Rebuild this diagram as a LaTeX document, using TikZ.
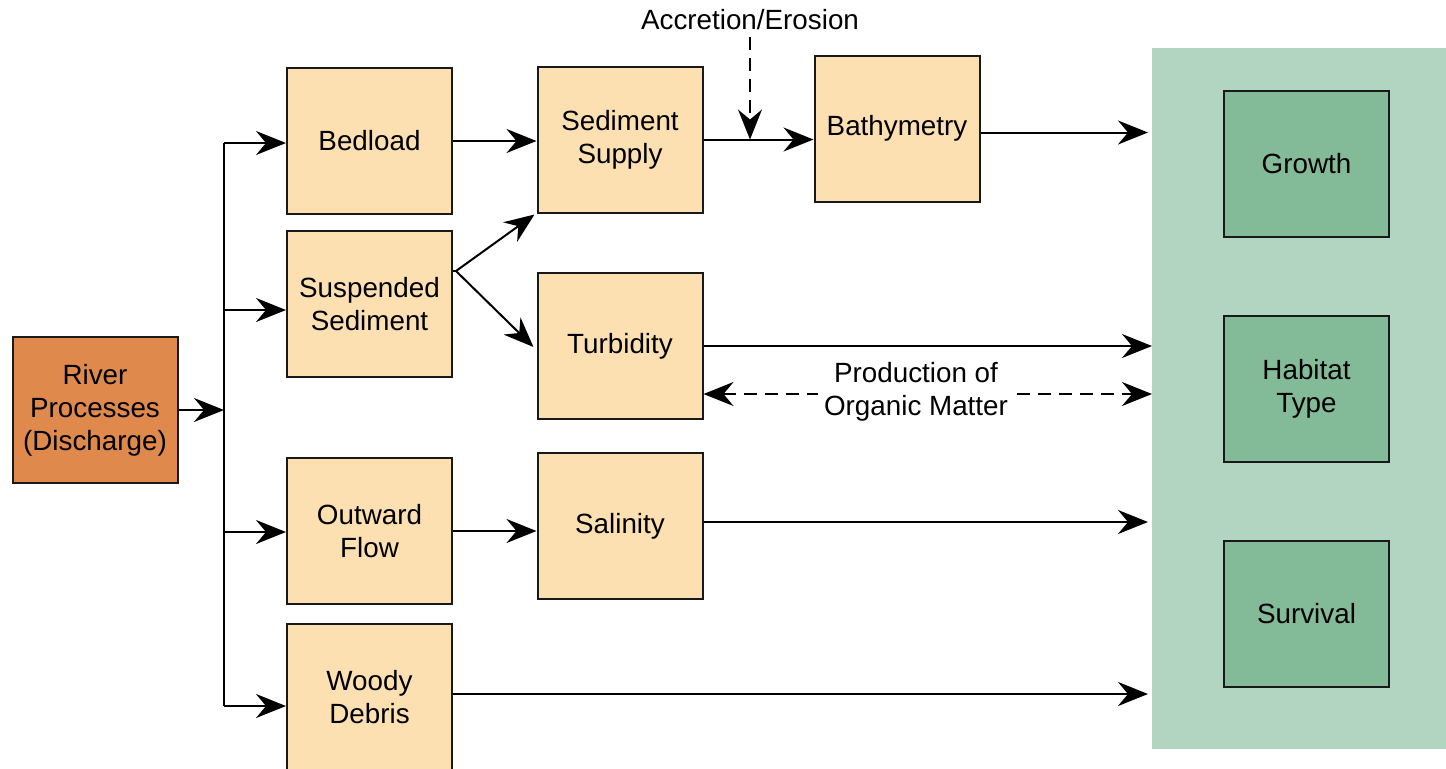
\documentclass[tikz,border=0pt]{standalone}
\usepackage{fontspec}
\setmainfont{Liberation Sans}
\usetikzlibrary{arrows.meta,calc}
\definecolor{riverc}{HTML}{E0894D}
\definecolor{tanc}{HTML}{FCE0B2}
\definecolor{panelc}{HTML}{B2D5C2}
\definecolor{outc}{HTML}{83BA98}
\begin{document}
\begin{tikzpicture}[x=0.5pt,y=-0.5pt,
  >={Stealth[length=15pt,width=12pt,inset=5pt]},
  txt/.style={font=\fontsize{13.9}{16.5}\selectfont, align=center},
  box/.style={txt, draw=black!90, line width=1pt, minimum width=82.5pt, minimum height=73pt, inner sep=0pt},
  tanbox/.style={box, fill=tanc},
  outbox/.style={box, fill=outc},
  arr/.style={line width=1pt, ->},
  darr/.style={arr, dash pattern=on 6.5pt off 4pt}
]
\clip (0,0) rectangle (1446,768);
\fill[white] (0,0) rectangle (1446,768);
% panel
\node[fill=panelc, minimum width=150pt, minimum height=350.5pt, inner sep=0pt, anchor=north west] (panel) at (1152,48) {};
\node[outbox] (growth) at (1306.5,164) {Growth};
\node[outbox] (habitat) at (1306.5,389) {Habitat\\Type};
\node[outbox] (survival) at (1306.5,614) {Survival};
% left
\node[box, fill=riverc] (river) at (95,410) {River\\Processes\\(Discharge)};
\node[tanbox] (bedload) at (369.5,141) {Bedload};
\node[tanbox] (susp) at (369.5,304) {Suspended\\Sediment};
\node[tanbox] (outward) at (369.5,531) {Outward\\Flow};
\node[tanbox] (woody) at (369.5,697) {Woody\\Debris};
\node[tanbox] (sedsup) at (620,139.5) {Sediment\\Supply};
\node[tanbox] (turb) at (620,346) {Turbidity};
\node[tanbox] (salin) at (620,526) {Salinity};
\node[tanbox] (bathy) at (897,128.5) {Bathymetry};
\node[txt] (accr) at (750,20) {Accretion/Erosion};
% trunk
\coordinate (ttop) at (224,143);
\coordinate (tbot) at (224,706);
\coordinate (tsus) at (224,310);
\coordinate (tout) at (224,532);
\draw[line width=1pt] (ttop) -- (tbot);
\draw[arr] (river.east) -- (river.east -| ttop);
\draw[arr] (ttop) -- (ttop -| bedload.west);
\draw[arr] (tsus) -- (tsus -| susp.west);
\draw[arr] (tout) -- (tout -| outward.west);
\draw[arr] (tbot) -- (tbot -| woody.west);
% middle
\draw[arr] (bedload.east) -- (bedload.east -| sedsup.west);
\coordinate (split) at (456,271);
\draw[line width=1pt] (susp.east |- split) -- (split);
\draw[arr] (split) -- ($(sedsup.south west)+(-2,1)$);
\draw[arr] (split) -- ($(turb.west)+(-3,1)$);
\draw[arr] (outward.east) -- (outward.east -| salin.west);
\draw[arr] (sedsup.east) -- (sedsup.east -| bathy.west);
\draw[darr] (accr.south) -- (accr.south |- sedsup.east);
% to panel
\draw[arr] ($(bathy.east)+(0,4)$) -- ($(bathy.east -| panel.west)+(-4,4)$);
\draw[arr] (turb.east) -- (turb.east -| panel.west);
\coordinate (prodL) at ($(turb.east)+(0,48)$);
\draw[darr, <->] (prodL) -- (prodL -| panel.west);
\node[txt, fill=white, inner sep=3pt] (prod) at (916,392) {Production of\\Organic Matter};
\draw[arr] ($(salin.east)+(0,-4)$) -- ($(salin.east -| panel.west)+(-4,-4)$);
\draw[arr] ($(woody.east)+(0,-3)$) -- ($(woody.east -| panel.west)+(-4,-3)$);
\end{tikzpicture}
\end{document}
